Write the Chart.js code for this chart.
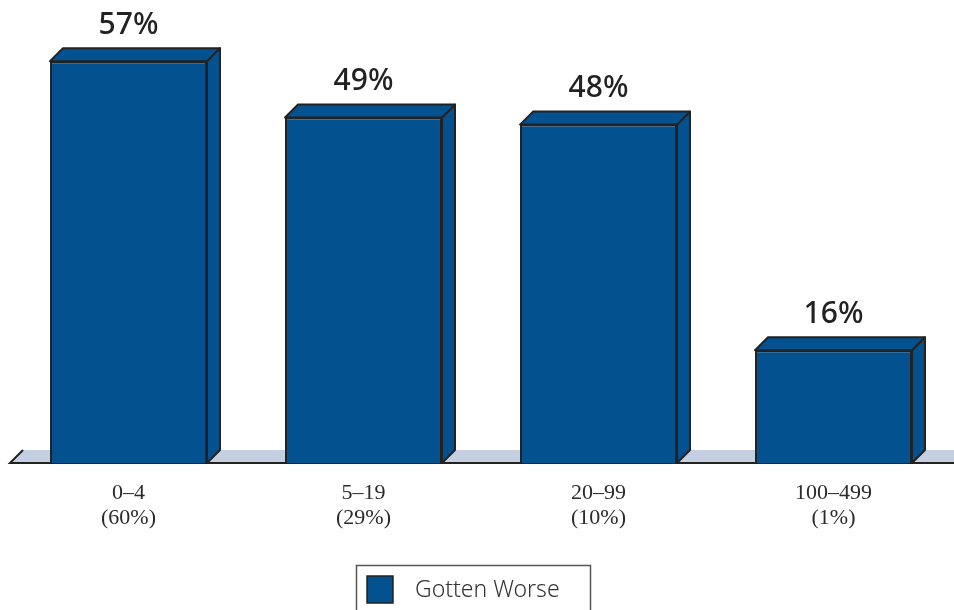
<!DOCTYPE html>
<html>
<head>
<meta charset="utf-8">
<script src="https://cdn.jsdelivr.net/npm/chart.js@4"></script>
<style>
  html, body { margin: 0; padding: 0; background: #fff; }
  #wrap { width: 954px; height: 610px; }
</style>
</head>
<body>
<div id="wrap"><canvas id="chart"></canvas></div>
<script>
// company size groups and their share of firms
const categories = ['0–4', '5–19', '20–99', '100–499'];
const shares = ['(60%)', '(29%)', '(10%)', '(1%)'];
// percent saying it has gotten worse
const worse = [57, 49, 48, 16];
const seriesName = 'Gotten Worse';

const blue = '#03518f';
const edge = '#222222';
const depth = 13;

// floor strip under the bars
const floorPlugin = {
  id: 'floor',
  beforeDatasetsDraw(chart) {
    const { ctx, chartArea } = chart;
    const b = chartArea.bottom;
    const l = chartArea.left - 1;
    ctx.save();
    ctx.beginPath();
    ctx.moveTo(l, b);
    ctx.lineTo(chart.width + 20, b);
    ctx.lineTo(chart.width + 20, b - depth);
    ctx.lineTo(l + depth, b - depth);
    ctx.closePath();
    ctx.fillStyle = '#c4cfe2';
    ctx.fill();
    ctx.beginPath();
    ctx.moveTo(l + depth, b - depth);
    ctx.lineTo(l, b);
    ctx.lineTo(chart.width, b);
    ctx.strokeStyle = edge;
    ctx.lineWidth = 2;
    ctx.stroke();
    ctx.restore();
  }
};

// top and side faces, plus value labels
const boxPlugin = {
  id: 'box3d',
  afterDatasetsDraw(chart) {
    const { ctx } = chart;
    const meta = chart.getDatasetMeta(0);
    ctx.save();
    ctx.lineWidth = 2;
    ctx.strokeStyle = edge;
    ctx.lineJoin = 'round';
    meta.data.forEach((bar, i) => {
      const left = bar.x - bar.width / 2;
      const right = bar.x + bar.width / 2;
      const top = bar.y;
      const bottom = bar.base;
      // side
      ctx.beginPath();
      ctx.moveTo(right, top);
      ctx.lineTo(right + depth, top - depth);
      ctx.lineTo(right + depth, bottom - depth);
      ctx.lineTo(right, bottom);
      ctx.closePath();
      ctx.fillStyle = blue;
      ctx.fill();
      ctx.stroke();
      // top
      ctx.beginPath();
      ctx.moveTo(left, top);
      ctx.lineTo(left + depth, top - depth);
      ctx.lineTo(right + depth, top - depth);
      ctx.lineTo(right, top);
      ctx.closePath();
      ctx.fill();
      ctx.stroke();

      ctx.fillStyle = '#222';
      ctx.font = '500 30px "Noto Sans"';
      ctx.textAlign = 'center';
      ctx.textBaseline = 'middle';
      ctx.fillText(worse[i] + '%', bar.x, top - 36);
    });
    ctx.restore();
  }
};

// boxed legend under the axis labels
const legendBox = {
  id: 'legendBox',
  afterDraw(chart) {
    const { ctx } = chart;
    ctx.save();
    ctx.strokeStyle = '#555';
    ctx.lineWidth = 1.5;
    ctx.strokeRect(356.5, 565.5, 234, 60);
    ctx.fillStyle = blue;
    ctx.fillRect(367, 576, 26, 27);
    ctx.strokeStyle = edge;
    ctx.lineWidth = 1.5;
    ctx.strokeRect(367, 576, 26, 27);
    ctx.fillStyle = '#333';
    ctx.font = '300 23px "Noto Sans"';
    ctx.textAlign = 'left';
    ctx.textBaseline = 'middle';
    ctx.fillText(seriesName, 415, 590);
    ctx.restore();
  }
};

new Chart(document.getElementById('chart'), {
  type: 'bar',
  data: {
    labels: categories.map((c, i) => [c, shares[i]]),
    datasets: [{
      label: seriesName,
      data: worse,
      backgroundColor: blue,
      borderColor: edge,
      borderWidth: 2,
      barPercentage: 0.668,
      categoryPercentage: 1
    }]
  },
  options: {
    responsive: true,
    maintainAspectRatio: false,
    animation: false,
    layout: { padding: { top: 40, left: 11, right: 3, bottom: 0 } },
    plugins: {
      legend: { display: false },
      tooltip: { enabled: false }
    },
    scales: {
      x: {
        grid: { display: false, drawTicks: false },
        border: { display: false },
        ticks: {
          color: '#2a2a2a',
          padding: 18,
          font: { family: '"Liberation Serif"', size: 22, lineHeight: 1.14 }
        },
        afterFit(scale) { scale.height = 147; }
      },
      y: {
        display: false,
        min: 0,
        max: 60
      }
    }
  },
  plugins: [floorPlugin, boxPlugin, legendBox]
});
</script>
</body>
</html>
